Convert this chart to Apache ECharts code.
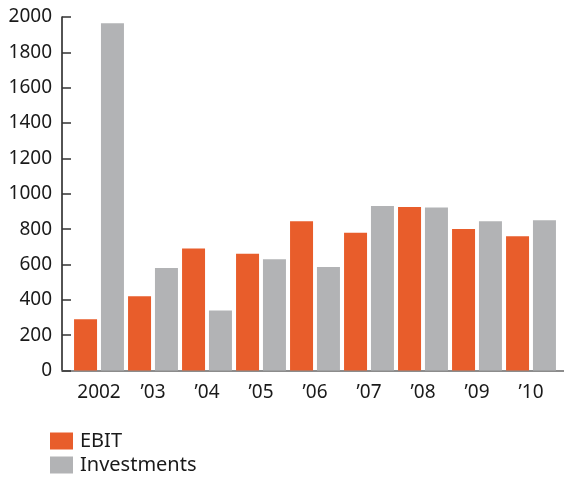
<!DOCTYPE html>
<html>
<head>
<meta charset="utf-8">
<script src="https://cdn.jsdelivr.net/npm/echarts@6/dist/echarts.min.js"></script>
<style>html,body{margin:0;padding:0;background:#fff;}#c{width:564px;height:478px;}</style>
</head>
<body>
<div id="c"></div>
<script>
const categories = ['2002', '\u201903', '\u201904', '\u201905', '\u201906', '\u201907', '\u201908', '\u201909', '\u201910'];
const ebit = [290, 420, 690, 660, 845, 780, 925, 800, 760];
const investments = [1965, 580, 340, 630, 585, 930, 922, 845, 850];
const yTicks = { min: 0, max: 2000, interval: 200 };

const FONT = 'Noto Sans';
const chart = echarts.init(document.getElementById('c'), null, { renderer: 'canvas' });
chart.setOption({
  animation: false,
  backgroundColor: '#ffffff',
  textStyle: { fontFamily: FONT },
  grid: [
    { left: 62, right: 0, top: 17, height: 353.5 },
    { left: 72, right: 6, top: 17, height: 353.5 }
  ],
  xAxis: [
    { gridIndex: 0, type: 'value', min: 0, max: 1,
      axisLine: { show: true, onZero: false, lineStyle: { color: '#8c8c8c', width: 2 } },
      axisTick: { show: false }, axisLabel: { show: false }, splitLine: { show: false } },
    { gridIndex: 1, type: 'category', data: categories,
      axisLine: { show: false }, axisTick: { show: false },
      axisLabel: { interval: 0, fontSize: 19, color: '#1a1a1a', margin: 13, fontFamily: FONT } }
  ],
  yAxis: [
    { gridIndex: 0, type: 'value', min: yTicks.min, max: yTicks.max, interval: yTicks.interval,
      axisLine: { show: true, lineStyle: { color: '#1a1a1a', width: 1.5 } },
      axisTick: { show: true, inside: true, length: 9, lineStyle: { color: '#333', width: 1.5 } },
      axisLabel: { fontSize: 19, color: '#1a1a1a', margin: 10, fontFamily: FONT,
        formatter: v => String(v) },
      splitLine: { show: false } },
    { gridIndex: 1, type: 'value', min: yTicks.min, max: yTicks.max, show: false, splitLine: { show: false } }
  ],
  legend: {
    data: ['EBIT', 'Investments'], orient: 'vertical', left: 50, top: 431, padding: 0,
    itemWidth: 23, itemHeight: 17, itemGap: 4, icon: 'rect',
    textStyle: { fontSize: 20, color: '#1a1a1a', fontFamily: FONT, padding: [0, 0, 0, 2] }
  },
  series: [
    { name: 'EBIT', type: 'bar', xAxisIndex: 1, yAxisIndex: 1, data: ebit,
      barWidth: 23, barGap: '17%', itemStyle: { color: '#E85D2B' } },
    { name: 'Investments', type: 'bar', xAxisIndex: 1, yAxisIndex: 1, data: investments,
      barWidth: 23, barGap: '17%', itemStyle: { color: '#B2B3B5' } }
  ]
});
</script>
</body>
</html>
